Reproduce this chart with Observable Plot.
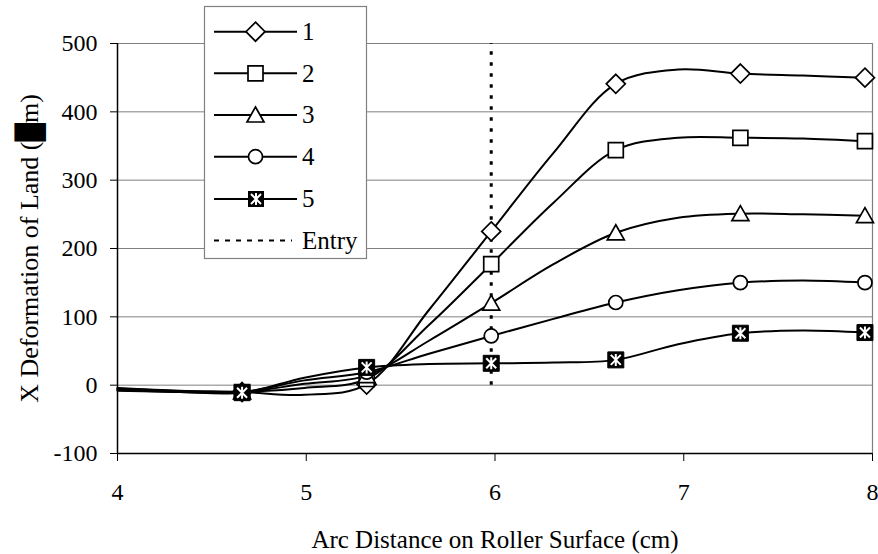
<!DOCTYPE html>
<html>
<head>
<meta charset="utf-8">
<script src="https://cdn.jsdelivr.net/npm/d3@7"></script>
<script src="https://cdn.jsdelivr.net/npm/@observablehq/plot@0.6"></script>
<style>
  html, body { margin: 0; padding: 0; background: white; }
  #chart { position: relative; width: 878px; height: 554px; }
</style>
</head>
<body>
<div id="chart"></div>
<script>
// Data
const xs = [4.00, 4.33, 4.66, 4.99, 5.32, 5.65, 5.98, 6.31, 6.64, 6.97, 7.30, 7.63, 7.96];
const s1 = [-4, -8, -10, -14, 1, 110, 225, 340, 441, 462, 456, 453, 450];
const s2 = [-5, -9, -10, -4, 9, 88, 177, 267, 344, 362, 362, 361, 357];
const s3 = [-6, -9, -10, 2, 14, 65, 120, 177, 223, 245, 251, 250, 248];
const s4 = [-7, -10, -10, 7, 19, 46, 72, 97, 121, 139, 150, 153, 150];
const s5 = [-8, -10, -11, 11, 26, 31, 32, 33, 37, 60, 76, 80, 77];
const seriesNames = ["1", "2", "3", "4", "5"];
const seriesValues = [s1, s2, s3, s4, s5];
const entryX = 5.98;
const entryLabel = "Entry";
const xTicks = [4, 5, 6, 7, 8];
const yTicks = [-100, 0, 100, 200, 300, 400, 500];
const xTitle = "Arc Distance on Roller Surface (cm)";
const yTitle = "X Deformation of Land (\u2588m)";

// Marker glyphs
const diamondSym = {draw(c) { const r = 9.5; c.moveTo(0, -r); c.lineTo(r, 0); c.lineTo(0, r); c.lineTo(-r, 0); c.closePath(); }};
const squareSym = {draw(c) { const h = 7.5; c.moveTo(-h, -h); c.lineTo(h, -h); c.lineTo(h, h); c.lineTo(-h, h); c.closePath(); }};
const triangleSym = {draw(c) { c.moveTo(0, -8); c.lineTo(8.5, 7); c.lineTo(-8.5, 7); c.closePath(); }};
const circleSym = {draw(c) { c.moveTo(7, 0); c.arc(0, 0, 7, 0, 2 * Math.PI); c.closePath(); }};
const boxSym = {draw(c) { const h = 8; c.moveTo(-h, -h); c.lineTo(h, -h); c.lineTo(h, h); c.lineTo(-h, h); c.closePath(); }};
const asteriskSym = {draw(c) { c.moveTo(0, -6); c.lineTo(0, 6); c.moveTo(-5, -5); c.lineTo(5, 5); c.moveTo(5, -5); c.lineTo(-5, 5); }};
const openSymbols = [diamondSym, squareSym, triangleSym, circleSym];

const rows = seriesValues.flatMap((vals, si) => vals.map((v, i) => ({x: xs[i], y: v, s: seriesNames[si], i})));
const markerRows = rows.filter(d => d.i > 0 && d.i % 2 === 0);

const marks = [
  Plot.gridY(yTicks, {stroke: "#808080", strokeOpacity: 1, strokeWidth: 1}),
  Plot.ruleX([8], {stroke: "#808080", strokeWidth: 1.2}),
  Plot.ruleX([entryX], {y1: 0, y2: 500, stroke: "black", strokeWidth: 3, strokeDasharray: "3.5,7.5"}),
  Plot.line(rows, {x: "x", y: "y", z: "s", stroke: "black", strokeWidth: 2, curve: "catmull-rom"}),
];
openSymbols.forEach((sym, k) => {
  marks.push(Plot.dot(markerRows.filter(d => d.s === seriesNames[k]), {x: "x", y: "y", symbol: sym, r: 8, fill: "white", stroke: "black", strokeWidth: 1.7}));
});
marks.push(Plot.dot(markerRows.filter(d => d.s === seriesNames[4]), {x: "x", y: "y", symbol: boxSym, r: 8, fill: "black", stroke: "black", strokeWidth: 1}));
marks.push(Plot.dot(markerRows.filter(d => d.s === seriesNames[4]), {x: "x", y: "y", symbol: asteriskSym, r: 8, fill: "none", stroke: "white", strokeWidth: 2}));
marks.push(
  Plot.ruleX([4], {stroke: "black", strokeWidth: 1.5}),
  Plot.ruleY([-100], {stroke: "black", strokeWidth: 1.5}),
  Plot.axisY({ticks: yTicks, tickSize: 7, tickPadding: 13, label: null, tickFormat: d => String(d), stroke: "black", fill: "black"}),
  Plot.axisX({ticks: xTicks, tickSize: 8, tickPadding: 21, label: null, tickFormat: d => String(d), stroke: "black", fill: "black"}),
  Plot.text([xTitle], {frameAnchor: "bottom", dy: 86, lineAnchor: "middle", textAnchor: "middle", fontSize: 25, fill: "black"}),
  Plot.text([yTitle], {frameAnchor: "left", dx: -88, rotate: -90, lineAnchor: "middle", textAnchor: "middle", fontSize: 26, fill: "black"})
);

const plot = Plot.plot({
  width: 878,
  height: 554,
  marginLeft: 117,
  marginRight: 6,
  marginTop: 43,
  marginBottom: 101,
  x: {domain: [4, 8]},
  y: {domain: [-100, 500]},
  style: {fontFamily: "'Liberation Serif', 'Times New Roman', serif", fontSize: "24px", background: "white", color: "black"},
  marks
});
document.getElementById("chart").appendChild(plot);

// Legend box
const svg = d3.select(plot);
const lg = svg.append("g").attr("class", "legend").attr("text-anchor", "start");
lg.append("rect").attr("x", 204.5).attr("y", 6.5).attr("width", 162).attr("height", 252)
  .attr("fill", "white").attr("stroke", "#808080").attr("stroke-width", 1.2);
const rowY = [31.7, 73.3, 115, 156.7, 199, 240.5];
const legendLabels = [...seriesNames, entryLabel];
legendLabels.forEach((lab, k) => {
  const y = rowY[k];
  if (k < 5) {
    lg.append("line").attr("x1", 214).attr("x2", 297).attr("y1", y).attr("y2", y).attr("stroke", "black").attr("stroke-width", 2);
    if (k < 4) {
      lg.append("path").attr("transform", `translate(255.5,${y})`).attr("d", d3.symbol(openSymbols[k], 64)())
        .attr("fill", "white").attr("stroke", "black").attr("stroke-width", 1.7);
    } else {
      lg.append("path").attr("transform", `translate(256,${y})`).attr("d", d3.symbol(boxSym, 64)()).attr("fill", "black");
      lg.append("path").attr("transform", `translate(256,${y})`).attr("d", d3.symbol(asteriskSym, 64)())
        .attr("fill", "none").attr("stroke", "white").attr("stroke-width", 2);
    }
  } else {
    lg.append("line").attr("x1", 214).attr("x2", 292).attr("y1", y).attr("y2", y).attr("stroke", "black").attr("stroke-width", 2).attr("stroke-dasharray", "5,6");
  }
  lg.append("text").attr("x", 302).attr("y", y).attr("dy", "0.33em").attr("text-anchor", "start")
    .attr("font-size", 25).attr("fill", "black").text(lab);
});
</script>
</body>
</html>
